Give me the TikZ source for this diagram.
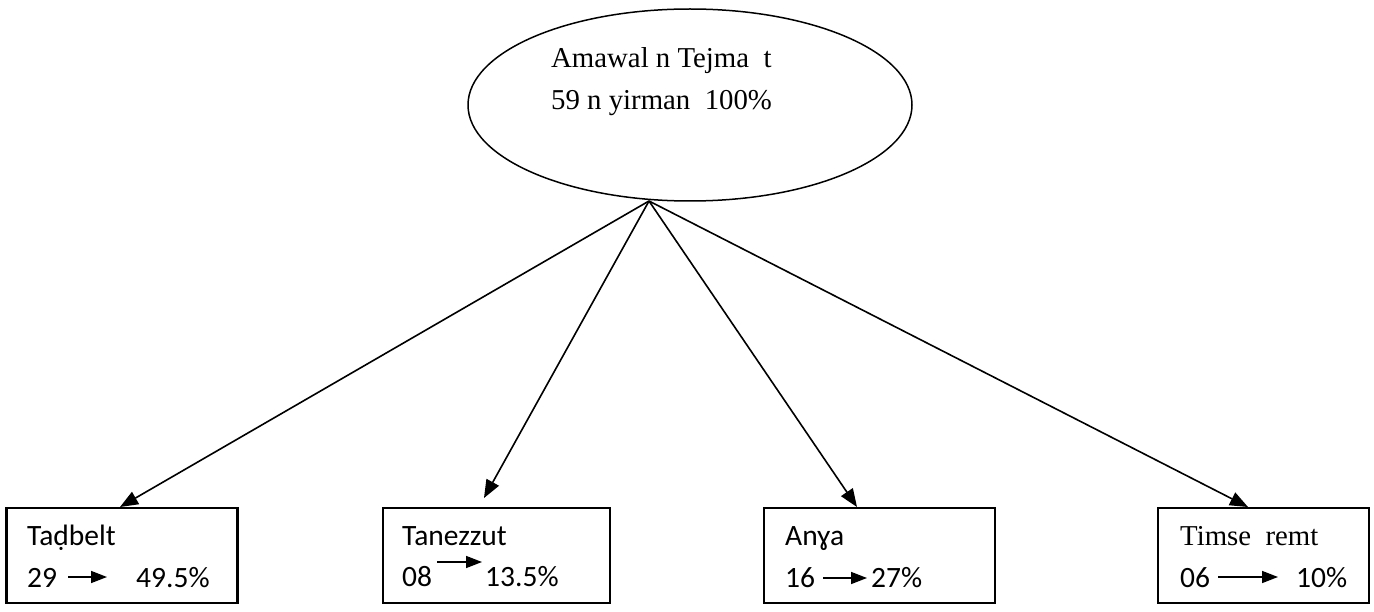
\documentclass[tikz,border=0pt]{standalone}
\usepackage{fontspec}
\setmainfont{Liberation Serif}
\newfontfamily\carlfont{Carlito}
\usetikzlibrary{arrows.meta,shapes.geometric}
\begin{document}
\begin{tikzpicture}[x=1pt,y=-1pt,
  conn/.style={line width=1.6pt,-{Triangle[length=18pt,width=14pt]}},
  inl/.style={line width=1.6pt,-{Triangle[length=16pt,width=12pt]}},
  boxs/.style={draw,line width=2.2pt,inner sep=0pt},
  lbl/.style={anchor=base west,inner sep=0pt,font=\fontsize{29.5}{29.5}\selectfont\carlfont},
  lbls/.style={anchor=base west,inner sep=0pt,font=\fontsize{28.8}{28.8}\selectfont}]
\useasboundingbox (0,0) rectangle (1374,612);
% top ellipse
\node[draw,ellipse,line width=1.5pt,minimum width=444pt,minimum height=192pt,inner sep=0pt] (top) at (690,105) {};
\node[lbls] (t1) at (551,68) {Amawal n Tejma\ \ t};
\node[lbls] (t2) at (551,110) {59 n yirman\ \ 100\%};
\coordinate (fan) at (649,201);
% boxes
\node[boxs,minimum width=231pt,minimum height=95pt] (b1) at (122,555.5) {};
\node[boxs,minimum width=227pt,minimum height=95pt] (b2) at (496.5,555.5) {};
\node[boxs,minimum width=231pt,minimum height=95pt] (b3) at (879.5,555.5) {};
\node[boxs,minimum width=211pt,minimum height=95pt] (b4) at (1263.5,555.5) {};
% connectors
\coordinate (e1) at (120,507);
\coordinate (e2) at (484,498);
\coordinate (e3) at (857,507);
\coordinate (e4) at (1248,507);
\draw[conn] (fan) -- (e1);
\draw[conn] (fan) -- (e2);
\draw[conn] (fan) -- (e3);
\draw[conn] (fan) -- (e4);
% box 1
\node[lbl] (n1) at (27,545) {Taḍbelt};
\node[lbl] (v1) at (27,587) {29};
\node[lbl] (p1) at (136,587) {49.5\%};
\coordinate (a1s) at (68,577); \coordinate (a1e) at (107,577);
\draw[inl] (a1s) -- (a1e);
% box 2
\node[lbl] (n2) at (402,545) {Tanezzut};
\node[lbl] (v2) at (402,586) {08};
\node[lbl] (p2) at (485,586) {13.5\%};
\coordinate (a2s) at (437,562); \coordinate (a2e) at (482,562);
\draw[inl] (a2s) -- (a2e);
% box 3
\node[lbl] (n3) at (785,545) {Anɣa};
\node[lbl] (v3) at (785,587) {16};
\node[lbl] (p3) at (871,587) {27\%};
\coordinate (a3s) at (823,578); \coordinate (a3e) at (867,578);
\draw[inl] (a3s) -- (a3e);
% box 4
\node[lbls] (n4) at (1180,545) {Timse\ \ remt};
\node[lbl] (v4) at (1180,587) {06};
\node[lbl] (p4) at (1296,587) {10\%};
\coordinate (a4s) at (1218,577); \coordinate (a4e) at (1278,577);
\draw[inl] (a4s) -- (a4e);
\end{tikzpicture}
\end{document}
